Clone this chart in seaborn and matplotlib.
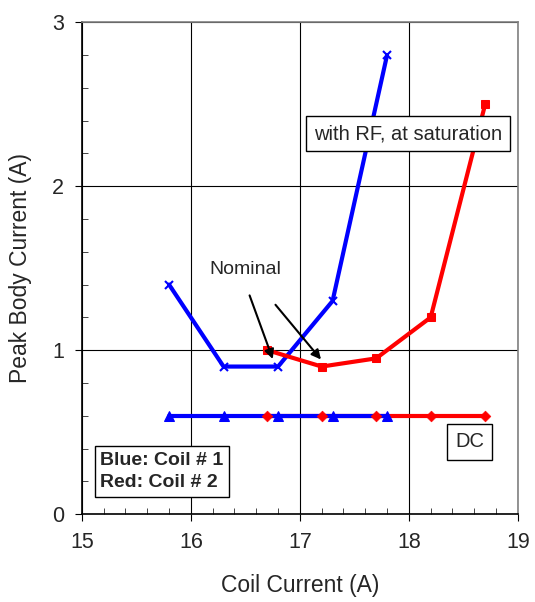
import numpy as np
import pandas as pd
import matplotlib
matplotlib.use("Agg")
import matplotlib.pyplot as plt
from matplotlib.ticker import MultipleLocator
import seaborn as sns

# datos
coil1_x = [15.8, 16.3, 16.8, 17.3, 17.8]
coil1_rf = [1.4, 0.9, 0.9, 1.3, 2.8]
coil1_dc = [0.6, 0.6, 0.6, 0.6, 0.6]

coil2_x = [16.7, 17.2, 17.7, 18.2, 18.7]
coil2_rf = [1.0, 0.9, 0.95, 1.2, 2.5]
coil2_dc = [0.6, 0.6, 0.6, 0.6, 0.6]

sns.set_style("white")
plt.rcParams["font.family"] = ["Liberation Sans", "DejaVu Sans"]

df1 = pd.DataFrame({"x": coil1_x, "rf": coil1_rf, "dc": coil1_dc})
df2 = pd.DataFrame({"x": coil2_x, "rf": coil2_rf, "dc": coil2_dc})

fig = plt.figure(figsize=(5.35, 6.02), dpi=100)
ax = fig.add_axes([0.153, 0.146, 0.815, 0.817])

# DC: rojo primero, azul encima, marcadores rojos arriba
sns.lineplot(data=df2, x="x", y="dc", ax=ax, color="red", lw=3, zorder=3)
sns.lineplot(data=df1, x="x", y="dc", ax=ax, color="blue", lw=3, marker="^",
             markersize=7, markeredgecolor="blue", zorder=4)
sns.scatterplot(data=df2, x="x", y="dc", ax=ax, color="red", marker="D",
                s=30, edgecolor="red", zorder=5)

# con RF
sns.lineplot(data=df1, x="x", y="rf", ax=ax, color="blue", lw=3, marker="x",
             markersize=6, markeredgewidth=1.5, markeredgecolor="blue", zorder=4)
sns.lineplot(data=df2, x="x", y="rf", ax=ax, color="red", lw=3, marker="s",
             markersize=6, markeredgecolor="red", zorder=4)

ax.set_xlim(15, 19)
ax.set_ylim(0, 3)
ax.xaxis.set_major_locator(MultipleLocator(1))
ax.yaxis.set_major_locator(MultipleLocator(1))
ax.xaxis.set_minor_locator(MultipleLocator(0.2))
ax.yaxis.set_minor_locator(MultipleLocator(0.2))
ax.grid(True, which="major", color="black", lw=0.8)
ax.tick_params(which="major", direction="out", length=5, labelsize=15.5,
               bottom=True, left=True, color="black", pad=8)
ax.tick_params(which="minor", direction="in", length=4, bottom=True, left=True)
for s in ["left", "bottom"]:
    ax.spines[s].set_color("black")
    ax.spines[s].set_linewidth(1.2)
for s in ["top", "right"]:
    ax.spines[s].set_color("gray")
    ax.spines[s].set_linewidth(1.2)

ax.set_xlabel("Coil Current (A)", fontsize=16.5, labelpad=15)
ax.set_ylabel("Peak Body Current (A)", fontsize=16.5, labelpad=14)

# anotaciones
ax.text(16.5, 1.49, "Nominal", fontsize=14, ha="center", va="center")
ax.annotate("", xy=(16.76, 0.93), xytext=(16.53, 1.35),
            arrowprops=dict(arrowstyle="-|>", color="black", lw=1.5,
                            mutation_scale=14), zorder=6)
ax.annotate("", xy=(17.21, 0.93), xytext=(16.76, 1.29),
            arrowprops=dict(arrowstyle="-|>", color="black", lw=1.5,
                            mutation_scale=14), zorder=6)

ax.text(17.99, 2.32, "with RF, at saturation", fontsize=14.5, ha="center",
        va="center", zorder=7,
        bbox=dict(boxstyle="square,pad=0.4", fc="white", ec="black", lw=1))
ax.text(18.56, 0.44, "DC", fontsize=14.5, ha="center", va="center", zorder=7,
        bbox=dict(boxstyle="square,pad=0.4", fc="white", ec="black", lw=1))
ax.text(15.17, 0.26, "Blue: Coil # 1\nRed: Coil # 2", fontsize=14,
        fontweight="bold", ha="left", va="center", linespacing=1.4, zorder=7,
        bbox=dict(boxstyle="square,pad=0.3", fc="white", ec="black", lw=1))

fig.savefig("out.png", dpi=100)
